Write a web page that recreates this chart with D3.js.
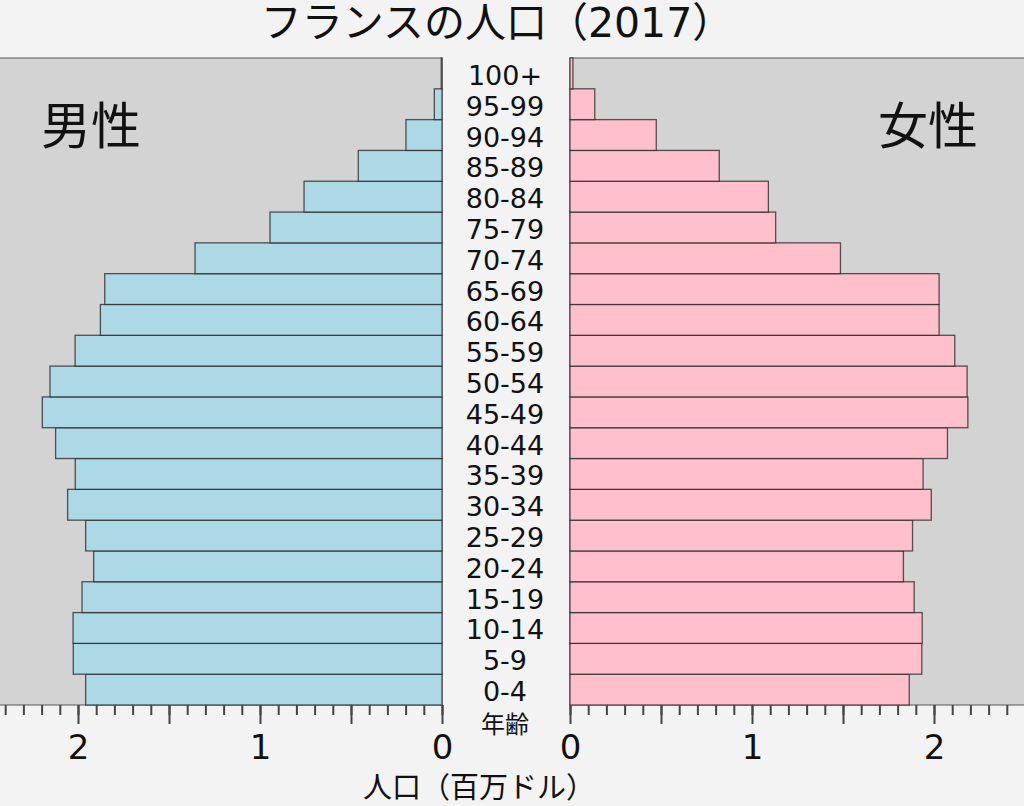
<!DOCTYPE html>
<html>
<head>
<meta charset="utf-8">
<script src="https://cdn.jsdelivr.net/npm/d3@7"></script>
<style>
  html, body { margin: 0; padding: 0; background: #f3f3f3; }
  svg { display: block; }
  .num { font-family: "DejaVu Sans", "Noto Sans CJK JP", sans-serif; fill: #111; }
  .jp { font-family: "Noto Sans CJK JP", "DejaVu Sans", sans-serif; fill: #111; }
</style>
</head>
<body>
<svg id="chart" width="1024" height="806"></svg>
<script>
// age groups, youngest first
const ageGroups = ['0-4', '5-9', '10-14', '15-19', '20-24', '25-29', '30-34', '35-39',
    '40-44', '45-49', '50-54', '55-59', '60-64', '65-69', '70-74', '75-79',
    '80-84', '85-89', '90-94', '95-99', '100+'];

// population in millions
const maleValues = [1.958, 2.026, 2.027, 1.978, 1.914, 1.958, 2.057, 2.015,
    2.123, 2.196, 2.154, 2.016, 1.877, 1.853, 1.357, 0.945,
    0.758, 0.46, 0.198, 0.042, 0.004];
const femaleValues = [1.864, 1.933, 1.935, 1.891, 1.832, 1.882, 1.985, 1.94,
    2.074, 2.186, 2.182, 2.114, 2.028, 2.028, 1.486, 1.13,
    1.09, 0.82, 0.474, 0.136, 0.016];

const majorTicks = [0, 0.5, 1, 1.5, 2];
const minorTicks = d3.range(0, 25).map(i => i / 10);

const svg = d3.select('#chart');

const plotTop = 58, plotBottom = 705;
const leftZero = 442, rightZero = 570;
const pxPerMillion = 182;

const y = d3.scaleBand()
    .domain(ageGroups.slice().reverse())
    .range([plotTop, plotBottom])
    .padding(0);

const xL = d3.scaleLinear()
    .domain([0, leftZero / pxPerMillion])
    .range([leftZero, 0]);

const xR = d3.scaleLinear()
    .domain([0, (1024 - rightZero) / pxPerMillion])
    .range([rightZero, 1024]);

// panels
svg.append('rect')
    .attr('x', -2).attr('y', plotTop)
    .attr('width', leftZero + 2).attr('height', plotBottom - plotTop)
    .attr('fill', '#d3d3d3')
    .attr('stroke', '#555').attr('stroke-width', 1);

svg.append('rect')
    .attr('x', rightZero).attr('y', plotTop)
    .attr('width', 1024 - rightZero + 2).attr('height', plotBottom - plotTop)
    .attr('fill', '#d3d3d3')
    .attr('stroke', '#555').attr('stroke-width', 1);

// bars
svg.append('g').selectAll('rect')
    .data(ageGroups.map((a, i) => ({ age: a, v: maleValues[i] })))
    .enter()
    .append('rect')
    .attr('x', d => xL(d.v))
    .attr('y', d => y(d.age))
    .attr('width', d => xL(0) - xL(d.v))
    .attr('height', y.bandwidth())
    .attr('fill', '#add8e6')
    .attr('stroke', '#222')
    .attr('stroke-opacity', 0.75)
    .attr('stroke-width', 1.3);

svg.append('g').selectAll('rect')
    .data(ageGroups.map((a, i) => ({ age: a, v: femaleValues[i] })))
    .enter()
    .append('rect')
    .attr('x', xR(0))
    .attr('y', d => y(d.age))
    .attr('width', d => xR(d.v) - xR(0))
    .attr('height', y.bandwidth())
    .attr('fill', '#ffc0cb')
    .attr('stroke', '#222')
    .attr('stroke-opacity', 0.75)
    .attr('stroke-width', 1.3);

// age labels
svg.append('g').selectAll('text')
    .data(ageGroups)
    .enter()
    .append('text')
    .attr('class', 'num')
    .attr('x', 505)
    .attr('y', d => y(d) + y.bandwidth() / 2 + 2)
    .attr('text-anchor', 'middle')
    .attr('dominant-baseline', 'central')
    .style('font-size', '27px')
    .text(d => d);

// axes
function drawAxis(scale) {
    const minor = svg.append('g')
        .attr('transform', `translate(0,${plotBottom})`)
        .call(d3.axisBottom(scale).tickValues(minorTicks).tickSize(10).tickFormat(''));
    minor.select('.domain').remove();
    minor.selectAll('line').attr('stroke', '#444').attr('stroke-width', 2);

    const major = svg.append('g')
        .attr('transform', `translate(0,${plotBottom})`)
        .call(d3.axisBottom(scale).tickValues(majorTicks).tickSize(19)
            .tickFormat(d => Number.isInteger(d) ? d : ''));
    major.select('.domain').remove();
    major.selectAll('line').attr('stroke', '#444').attr('stroke-width', 2);
    major.selectAll('text')
        .attr('class', 'num')
        .attr('y', 42)
        .attr('dy', null)
        .attr('dominant-baseline', 'central')
        .style('font-size', '34px')
        .attr('fill', '#111');
}
drawAxis(xL);
drawAxis(xR);

// titles and labels
svg.append('text')
    .attr('class', 'num')
    .attr('x', 497)
    .attr('y', 23)
    .attr('text-anchor', 'middle')
    .attr('dominant-baseline', 'central')
    .style('font-size', '41px')
    .text('フランスの人口（2017）');

svg.append('text')
    .attr('class', 'jp')
    .attr('x', 91).attr('y', 122)
    .attr('text-anchor', 'middle')
    .attr('dominant-baseline', 'central')
    .style('font-size', '50px')
    .text('男性');

svg.append('text')
    .attr('class', 'jp')
    .attr('x', 928).attr('y', 122)
    .attr('text-anchor', 'middle')
    .attr('dominant-baseline', 'central')
    .style('font-size', '50px')
    .text('女性');

svg.append('text')
    .attr('class', 'jp')
    .attr('x', 505).attr('y', 722)
    .attr('text-anchor', 'middle')
    .attr('dominant-baseline', 'central')
    .style('font-size', '24px')
    .text('年齢');

svg.append('text')
    .attr('class', 'jp')
    .attr('x', 479).attr('y', 785)
    .attr('text-anchor', 'middle')
    .attr('dominant-baseline', 'central')
    .style('font-size', '29px')
    .text('人口（百万ドル）');
</script>
</body>
</html>
